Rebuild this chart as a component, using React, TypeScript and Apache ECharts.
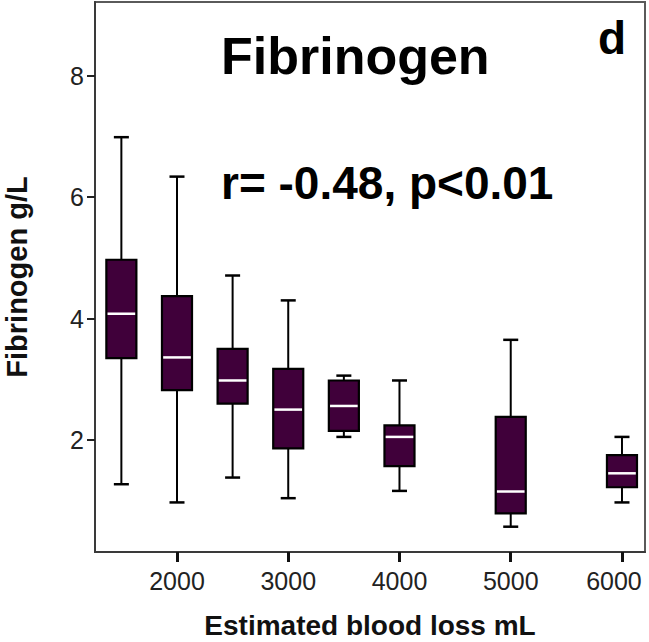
import React, { useEffect, useRef } from "react";
import * as echarts from "echarts";

// Estimated blood loss (mL) groups
const bloodLoss = [1500, 2000, 2500, 3000, 3500, 4000, 5000, 6000];
// Fibrinogen g/L box statistics
const whiskerLow = [1.27, 0.97, 1.38, 1.04, 2.05, 1.16, 0.57, 0.97];
const q1 = [3.35, 2.82, 2.6, 1.86, 2.15, 1.57, 0.79, 1.22];
const median = [4.08, 3.36, 2.98, 2.5, 2.56, 2.05, 1.15, 1.45];
const q3 = [4.97, 4.37, 3.5, 3.17, 2.98, 2.24, 2.38, 1.75];
const whiskerHigh = [6.99, 6.34, 4.71, 4.3, 3.06, 2.98, 3.65, 2.05];

const xTicks = [2000, 3000, 4000, 5000, 6000];
const yTicks = [2, 4, 6, 8];

const titleText = "Fibrinogen";
const statText = "r= -0.48, p<0.01";
const panelLetter = "d";
const xName = "Estimated blood loss mL";
const yName = "Fibrinogen g/L";

const BOX_W = 270; // in data units of x

export default function App() {
  const ref = useRef<HTMLDivElement>(null);
  useEffect(() => {
    if (!ref.current) return;
    const chart = echarts.init(ref.current, null, { renderer: "svg" });
    const data = bloodLoss.map((x, i) => [x, whiskerLow[i], q1[i], median[i], q3[i], whiskerHigh[i]]);
    const font = "'Liberation Sans', Arial, sans-serif";
    const lastX = xTicks[xTicks.length - 1];
    chart.setOption({
      animation: false,
      backgroundColor: "#ffffff",
      textStyle: { fontFamily: font },
      grid: {
        left: 95,
        right: 4,
        top: 2,
        bottom: 90,
        containLabel: false,
        outerBoundsMode: "none",
        show: true,
        borderColor: "#5a5a5a",
        borderWidth: 2,
        backgroundColor: "transparent",
      },
      xAxis: {
        type: "value",
        min: 1263,
        max: 6207,
        splitLine: { show: false },
        axisLine: { show: true, onZero: false, lineStyle: { color: "#3a3a3a", width: 2 } },
        axisTick: { show: true, customValues: xTicks, length: 10, lineStyle: { color: "#111", width: 3 } },
        axisLabel: {
          customValues: xTicks,
          fontSize: 25,
          color: "#222",
          margin: 16,
          fontFamily: font,
          formatter: (v: number) => (v === lastX ? `{last|${v}}` : String(v)),
          rich: {
            last: { fontSize: 25, color: "#222", fontFamily: font, padding: [0, 16, 0, 0] },
          },
        },
        name: xName,
        nameLocation: "middle",
        nameGap: 59,
        nameTextStyle: { fontSize: 28, fontWeight: "bold", color: "#111", fontFamily: font },
      },
      yAxis: {
        type: "value",
        min: 0.153,
        max: 9.218,
        splitLine: { show: false },
        axisLine: { show: true, onZero: false, lineStyle: { color: "#3a3a3a", width: 2 } },
        axisTick: { show: true, customValues: yTicks, length: 8, lineStyle: { color: "#222", width: 2 } },
        axisLabel: {
          customValues: yTicks,
          fontSize: 25,
          color: "#222",
          margin: 11,
          fontFamily: font,
          formatter: (v: number) => String(v),
        },
        name: yName,
        nameLocation: "middle",
        nameGap: 64,
        nameRotate: 90,
        nameTextStyle: { fontSize: 29, fontWeight: "bold", color: "#111", fontFamily: font },
      },
      graphic: [
        {
          type: "text",
          left: 221,
          top: 30,
          style: { text: titleText, fontSize: 52, fontWeight: "bold", fill: "#000", font: `bold 52px ${font}` },
        },
        {
          type: "text",
          left: 221,
          top: 160,
          style: { text: statText, fontSize: 46, fontWeight: "bold", fill: "#000", font: `bold 46px ${font}` },
        },
        {
          type: "text",
          left: 598,
          top: 15,
          style: { text: panelLetter, fontSize: 46, fontWeight: "bold", fill: "#000", font: `bold 46px ${font}` },
        },
      ],
      series: [
        {
          type: "custom",
          data,
          encode: { x: 0, y: [1, 2, 3, 4, 5] },
          renderItem: (params: any, api: any) => {
            const x = api.value(0);
            const pLow = api.coord([x, api.value(1)]);
            const pQ1 = api.coord([x, api.value(2)]);
            const pMed = api.coord([x, api.value(3)]);
            const pQ3 = api.coord([x, api.value(4)]);
            const pHigh = api.coord([x, api.value(5)]);
            const w = api.size([BOX_W, 0])[0];
            const hw = w / 2;
            const cw = w / 4;
            const cx = pMed[0];
            const stroke = { stroke: "#000", lineWidth: 2 };
            return {
              type: "group",
              children: [
                { type: "line", shape: { x1: cx, y1: pQ3[1], x2: cx, y2: pHigh[1] }, style: stroke },
                { type: "line", shape: { x1: cx, y1: pLow[1], x2: cx, y2: pQ1[1] }, style: stroke },
                { type: "line", shape: { x1: cx - cw, y1: pHigh[1], x2: cx + cw, y2: pHigh[1] }, style: { stroke: "#000", lineWidth: 2.5 } },
                { type: "line", shape: { x1: cx - cw, y1: pLow[1], x2: cx + cw, y2: pLow[1] }, style: { stroke: "#000", lineWidth: 2.5 } },
                {
                  type: "rect",
                  shape: { x: cx - hw, y: pQ3[1], width: w, height: pQ1[1] - pQ3[1] },
                  style: { fill: "#40003a", stroke: "#000", lineWidth: 2.2 },
                },
                {
                  type: "line",
                  shape: { x1: cx - hw + 1.2, y1: pMed[1], x2: cx + hw - 1.2, y2: pMed[1] },
                  style: { stroke: "#ffffff", lineWidth: 2.5 },
                },
              ],
            };
          },
        },
      ],
    });
    return () => chart.dispose();
  }, []);
  return (
    <div
      ref={ref}
      style={{ position: "absolute", left: 0, top: 0, width: 649, height: 642, background: "#fff" }}
    />
  );
}
